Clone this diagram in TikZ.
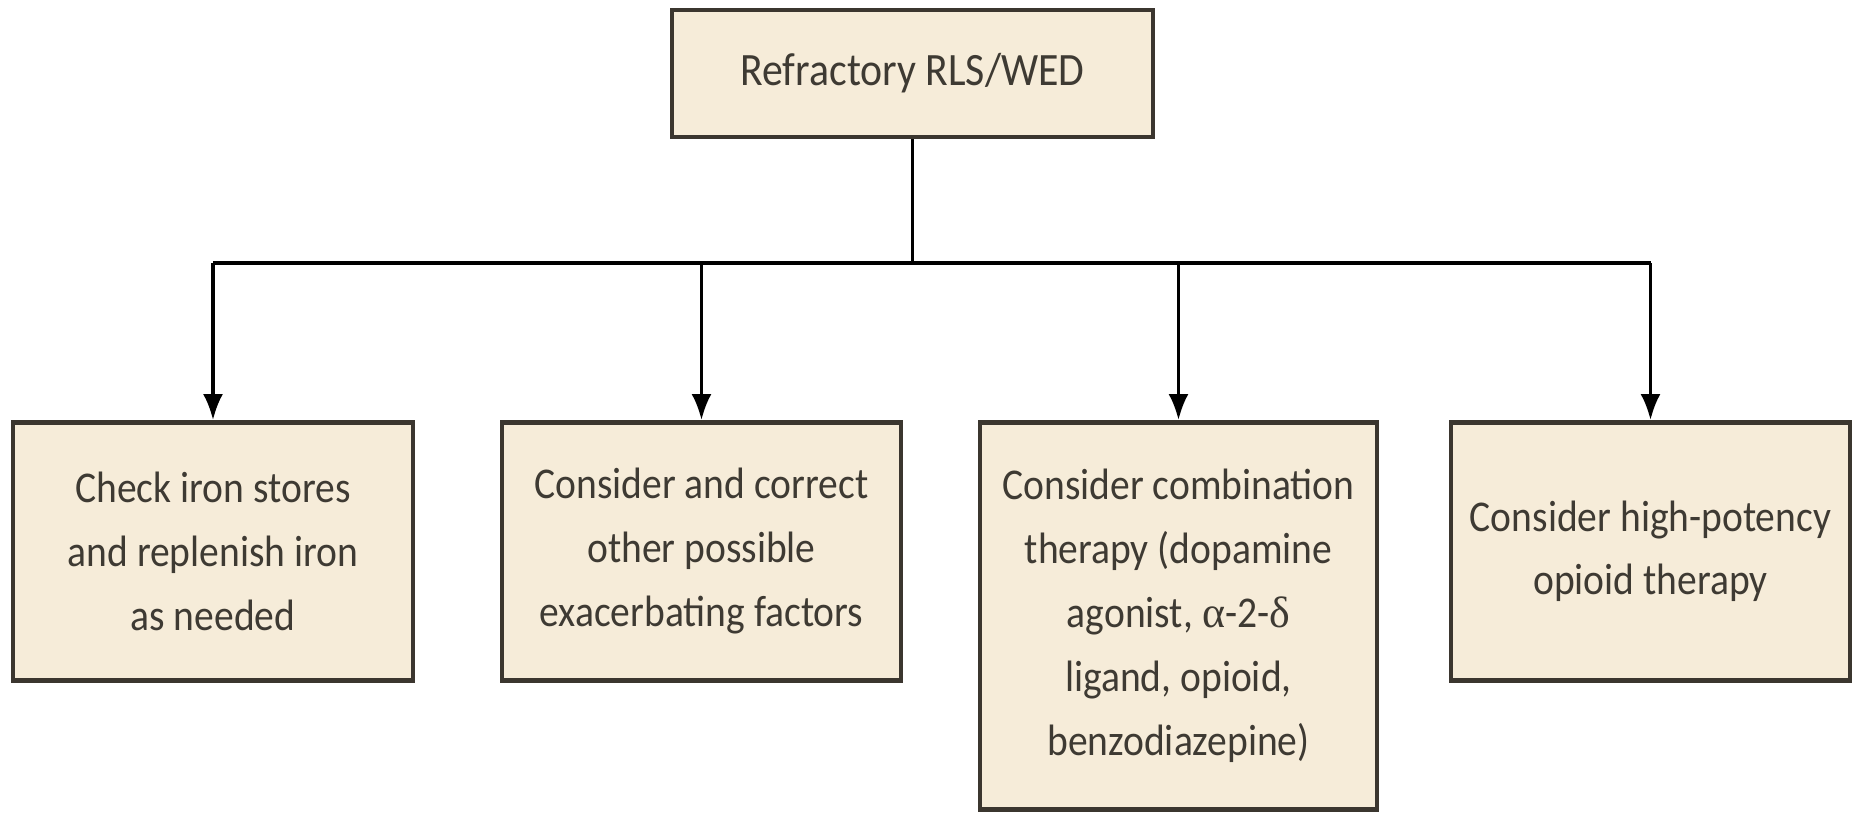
\documentclass[tikz,border=0pt]{standalone}
\usepackage{fontspec}
\setmainfont[FakeStretch=0.9]{Carlito}
\newfontfamily\grkfont{Liberation Serif}
\usetikzlibrary{arrows.meta}
\definecolor{boxfill}{HTML}{F6ECD9}
\definecolor{boxline}{HTML}{3B362F}
\definecolor{boxtext}{HTML}{3E3A33}

\begin{document}
\begin{tikzpicture}[line width=0.9pt,
    stepbox/.style={draw=boxline, fill=boxfill, line width=1.3pt,
      text=boxtext, align=center, inner sep=0pt,
      font=\fontsize{12.5}{18.2}\selectfont},
    branch/.style={-{Latex[length=2.6mm,width=2mm]}}]
  \useasboundingbox (0,0) rectangle (18.58,-8.17);

  % root box
  \node[stepbox, minimum width=4.81cm, minimum height=1.27cm,
    font=\fontsize{13.2}{18.2}\selectfont] (root) at (9.125,-0.735)
    {Refractory RLS/WED};

  % the four options
  \node[stepbox, anchor=north, minimum width=4.0cm, minimum height=2.58cm] (iron) at (2.13,-4.20)
    {Check iron stores\\and replenish iron\\as needed};
  \node[stepbox, anchor=north, minimum width=3.99cm, minimum height=2.58cm] (factors) at (7.015,-4.20)
    {Consider and correct\\other possible\\exacerbating factors};
  \node[stepbox, anchor=north, minimum width=3.97cm, minimum height=3.87cm] (combo) at (11.785,-4.20)
    {Consider combination\\therapy (dopamine\\agonist, {\grkfont α}-2-{\grkfont δ}\\ligand, opioid,\\benzodiazepine)};
  \node[stepbox, anchor=north, minimum width=3.99cm, minimum height=2.58cm] (opioid) at (16.505,-4.20)
    {Consider high-potency\\opioid therapy};

  % connectors
  \coordinate (split) at (9.125,-2.63);
  \draw (root.south) -- (split);
  \draw (iron.north |- split) -- (opioid.north |- split);
  \foreach \b in {iron, factors, combo, opioid}{
    \draw[branch] (\b.north |- split) -- (\b.north);
  }
\end{tikzpicture}
\end{document}
